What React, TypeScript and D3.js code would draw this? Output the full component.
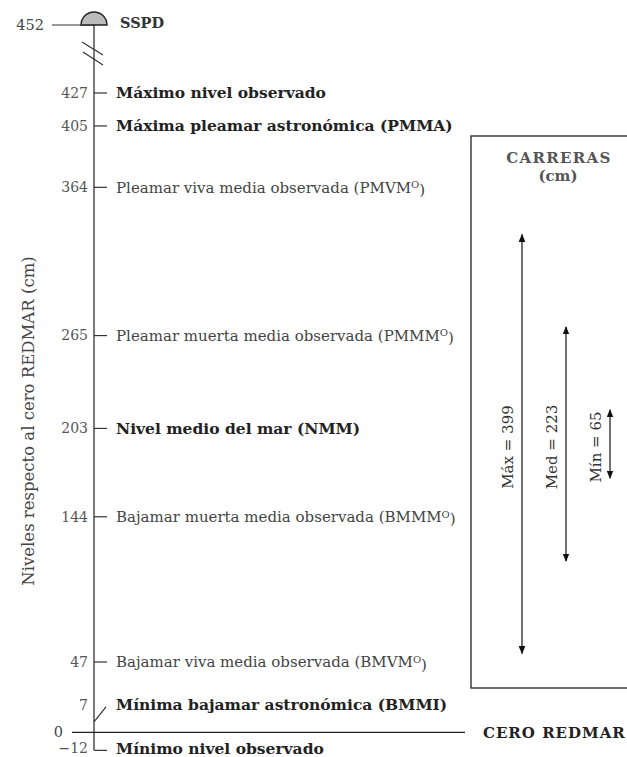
import React from "react";
import * as d3 from "d3";

const levelValues = [427, 405, 364, 265, 203, 144, 47, 7, -12];
const levelNames = [
  "Máximo nivel observado",
  "Máxima pleamar astronómica (PMMA)",
  "Pleamar viva media observada (PMVM",
  "Pleamar muerta media observada (PMMM",
  "Nivel medio del mar (NMM)",
  "Bajamar muerta media observada (BMMM",
  "Bajamar viva media observada (BMVM",
  "Mínima bajamar astronómica (BMMI)",
  "Mínimo nivel observado",
];
const levelSup = ["", "", "O", "O", "", "O", "O", "", ""];
const levelBold = [true, true, false, false, true, false, false, true, true];
const sspdValue = 452;
const sspdName = "SSPD";
const rangeValues = [399, 223, 65];
const rangeNames = ["Máx", "Med", "Mín"];

const W = 627;
const H = 757;
const FONT = "'DejaVu Serif', serif";

export default function App() {
  const axisX = 94;
  const y = d3.scaleLinear().domain([0, 427]).range([732.4, 93]);
  const ySSPD = 25;
  const yBottom = y(-12);
  const rangeLen = d3.scaleLinear().domain([0, 399]).range([0, 419]);
  const rangeCenter = 444;
  const rangeX = d3.scaleBand<string>().domain(rangeNames).range([500, 632]).paddingInner(0);
  const arc = d3.arc()({ innerRadius: 0, outerRadius: 13, startAngle: -Math.PI / 2, endAngle: Math.PI / 2 }) as string;

  return (
    <svg width={W} height={H} style={{ position: "absolute", left: 0, top: 0, background: "#fff" }} fontFamily={FONT}>
      <defs>
        <marker id="ah" viewBox="0 0 10 10" refX="9" refY="5" markerWidth="7" markerHeight="7" orient="auto-start-reverse">
          <path d="M0,1 L10,5 L0,9 z" fill="#111" />
        </marker>
      </defs>

      {/* y-axis title */}
      <text transform={`translate(34,${421}) rotate(-90)`} textAnchor="middle" fontSize={16.5} fill="#444">
        Niveles respecto al cero REDMAR (cm)
      </text>

      {/* main axis */}
      <line x1={axisX} x2={axisX} y1={ySSPD} y2={yBottom} stroke="#333" strokeWidth={1.3} />
      {/* break marks */}
      <line x1={axisX - 12} y1={42} x2={axisX + 9} y2={55} stroke="#333" strokeWidth={1.2} />
      <line x1={axisX - 11} y1={52} x2={axisX + 9} y2={65} stroke="#333" strokeWidth={1.2} />

      {/* SSPD */}
      <line x1={52} x2={axisX} y1={ySSPD} y2={ySSPD} stroke="#333" strokeWidth={1.2} />
      <path d={arc} transform={`translate(${axisX},${ySSPD})`} fill="#bbb" stroke="#222" strokeWidth={1.4} />
      <text x={44} y={ySSPD} dy="0.35em" textAnchor="end" fontSize={14.5} fill="#444">{sspdValue}</text>
      <text x={120} y={ySSPD - 2} dy="0.35em" fontSize={14.5} fontWeight="bold" fill="#333">{sspdName}</text>

      {/* zero line */}
      <line x1={72} x2={465} y1={y(0)} y2={y(0)} stroke="#222" strokeWidth={1.2} />
      <text x={63} y={y(0)} dy="0.35em" textAnchor="end" fontSize={14.5} fill="#444">0</text>
      <text x={483} y={y(0)} dy="0.35em" fontSize={15} fontWeight="bold" letterSpacing={1} fill="#222">CERO REDMAR</text>

      {/* levels */}
      {levelValues.map((v, i) => {
        const isSeven = v === 7;
        const isMin = v === -12;
        const labelY = isSeven ? y(v) - 17 : isMin ? y(v) - 2 : y(v);
        return (
          <g key={v}>
            {isSeven ? (
              <line x1={axisX} y1={y(v)} x2={axisX + 12} y2={y(v) - 15} stroke="#333" strokeWidth={1.2} />
            ) : (
              <line x1={axisX} y1={y(v)} x2={axisX + 13} y2={y(v)} stroke="#333" strokeWidth={1.2} />
            )}
            <text x={88} y={labelY} dy="0.35em" textAnchor="end" fontSize={14} fill="#555">
              {v < 0 ? `\u2212${Math.abs(v)}` : v}
            </text>
            <text x={116} y={labelY} dy="0.35em" fontSize={levelBold[i] ? 15.5 : 15} fontWeight={levelBold[i] ? "bold" : "normal"} fill={levelBold[i] ? "#222" : "#444"}>
              {levelNames[i]}
              {levelSup[i] && (
                <>
                  <tspan dy="-0.45em" fontSize={10}>{levelSup[i]}</tspan>
                  <tspan dy="0.45em">)</tspan>
                </>
              )}
            </text>
          </g>
        );
      })}

      {/* carreras box */}
      <rect x={471} y={136} width={200} height={552} fill="none" stroke="#222" strokeWidth={1.3} />
      <text x={559} y={158} dy="0.35em" textAnchor="middle" fontSize={15} fontWeight="bold" letterSpacing={1.3} fill="#555">CARRERAS</text>
      <text x={558} y={176} dy="0.35em" textAnchor="middle" fontSize={15} fontWeight="bold" fill="#555">(cm)</text>

      {rangeValues.map((v, i) => {
        const x = (rangeX(rangeNames[i]) as number) + 22;
        const half = rangeLen(v) / 2;
        return (
          <g key={rangeNames[i]}>
            <line x1={x} x2={x} y1={rangeCenter + half} y2={rangeCenter - half} stroke="#111" strokeWidth={1.2}
              markerStart="url(#ah)" markerEnd="url(#ah)" />
            <text transform={`translate(${x - 14},${rangeCenter + 3}) rotate(-90)`} textAnchor="middle" dy="0.35em" fontSize={15} fill="#333">
              {`${rangeNames[i]} = ${v}`}
            </text>
          </g>
        );
      })}
    </svg>
  );
}
